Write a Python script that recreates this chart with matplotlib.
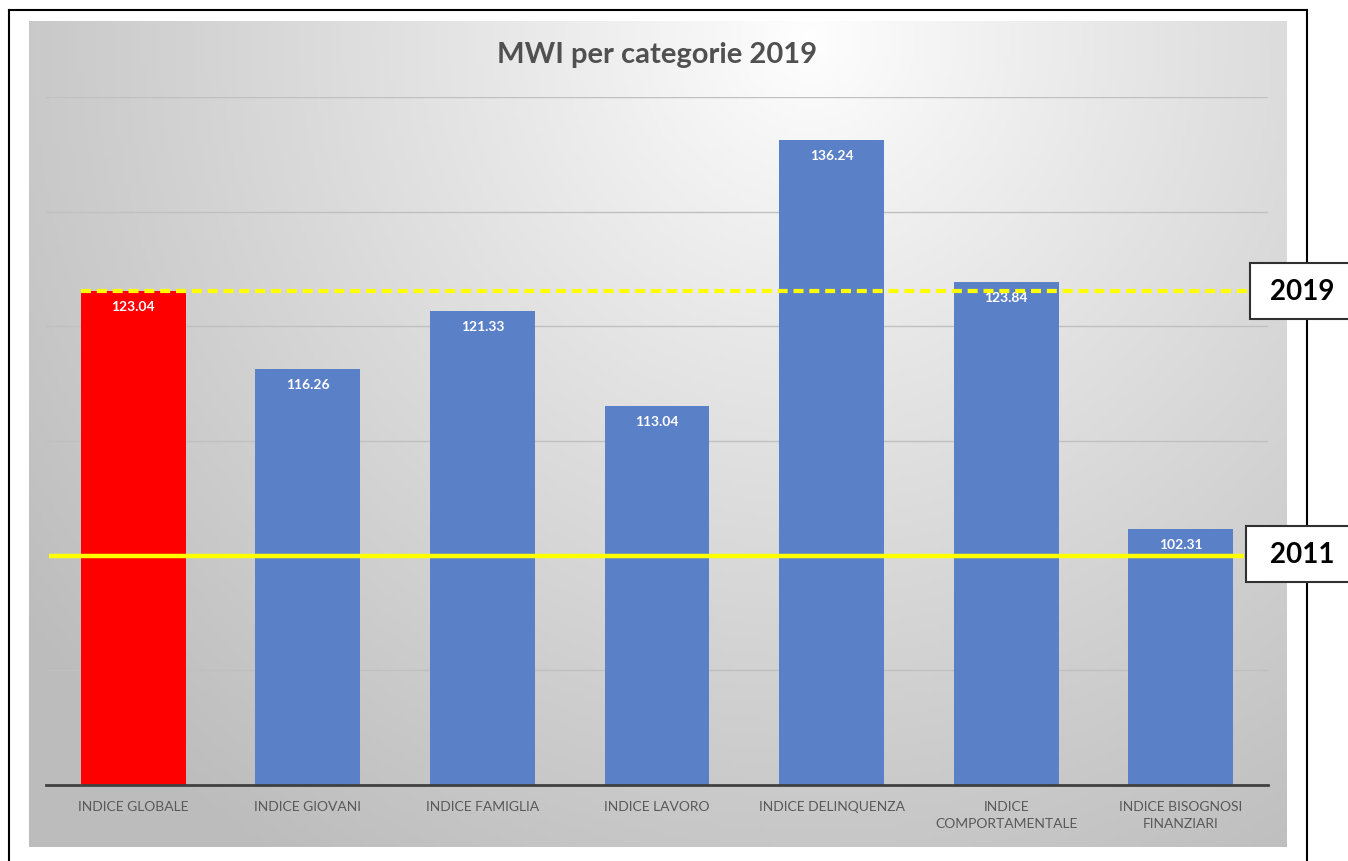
import numpy as np
import matplotlib
matplotlib.use("Agg")
import matplotlib.pyplot as plt
from matplotlib.patches import Rectangle
from matplotlib.lines import Line2D

categories = ["INDICE GLOBALE", "INDICE GIOVANI", "INDICE FAMIGLIA", "INDICE LAVORO",
              "INDICE DELINQUENZA", "INDICE\nCOMPORTAMENTALE", "INDICE BISOGNOSI\nFINANZIARI"]
values = [123.04, 116.26, 121.33, 113.04, 136.24, 123.84, 102.31]
bar_colors = ["#FF0000", "#5A80C8", "#5A80C8", "#5A80C8", "#5A80C8", "#5A80C8", "#5A80C8"]
ref_2019 = 123.04
ref_2011 = 100.0
y_min, y_max = 80, 140
grid_ticks = [90, 100, 110, 120, 130, 140]
title = "MWI per categorie 2019"

plt.rcParams['font.family'] = ['Lato', 'DejaVu Sans']

W, H = 1348, 862
fig = plt.figure(figsize=(W / 100, H / 100), dpi=100)
fig.patch.set_facecolor("white")

def fx(px):
    return px / W

def fy(py):
    return 1 - py / H

# gradient background area
bg_l, bg_t, bg_r, bg_b = 29, 22, 1287, 848
bgax = fig.add_axes([fx(bg_l), fy(bg_b), fx(bg_r - bg_l), (bg_b - bg_t) / H])
ny, nx = 200, 300
yy, xx = np.mgrid[0:ny, 0:nx]
u = xx / (nx - 1) * (bg_r - bg_l)
v = yy / (ny - 1) * (bg_b - bg_t)
cx, cy = 0.62 * (bg_r - bg_l), 0.02 * (bg_b - bg_t)
d = np.sqrt((u - cx) ** 2 + (v - cy) ** 2)
d = d / d.max()
gray = 1.0 - 0.26 * np.clip(d * 1.15, 0, 1) ** 0.9
img = np.dstack([gray, gray, gray])
bgax.imshow(img, aspect="auto", extent=[0, 1, 0, 1], origin="upper")
bgax.set_axis_off()

# main axes
L, R, T, B = 46, 1268, 98, 786
ax = fig.add_axes([fx(L), fy(B), fx(R - L), (B - T) / H])
ax.patch.set_alpha(0)
x = np.arange(len(categories))
ax.set_xlim(-0.5, len(categories) - 0.5)
ax.set_ylim(y_min, y_max)
for g in grid_ticks:
    ax.axhline(g, color="#c0c0c0", lw=1, zorder=0)
bars = ax.bar(x, [v - y_min for v in values], bottom=y_min, width=0.6,
              color=bar_colors, zorder=2)
for xi, v in zip(x, values):
    ax.text(xi, v - 0.75, f"{v:.2f}", ha="center", va="top", color="white",
            fontsize=10, fontweight="bold", zorder=4)
for s in ["top", "right", "left"]:
    ax.spines[s].set_visible(False)
ax.spines["bottom"].set_color("#404040")
ax.spines["bottom"].set_linewidth(2)
ax.spines["bottom"].set_zorder(3)
ax.set_yticks([])
ax.set_xticks(x)
ax.set_xticklabels(categories, fontsize=10, color="#595959", linespacing=1.5)
ax.tick_params(axis="x", length=0, pad=11)

# reference lines (extend beyond axes)
ax.plot([-0.5 + 0.2, 6.5 - 0.1], [ref_2019, ref_2019], color="#FFFF00", lw=3,
        dashes=(2.4, 1.4), zorder=5, clip_on=False)
ax.plot([-0.5 + 0.02, 6.5 - 0.14], [ref_2011, ref_2011], color="#FFFF00", lw=3.2,
        zorder=5, clip_on=False, solid_capstyle="butt")

# title
fig.text(fx(657), fy(55), title, ha="center", va="center", fontsize=21,
         fontweight="bold", color="#505050")

# label boxes
for (bx0, by0, by1, label) in [(1250, 264, 320, "2019"), (1246, 527, 583, "2011")]:
    fig.patches.append(Rectangle((fx(bx0), fy(by1)), fx(W + 10 - bx0), (by1 - by0) / H,
                                 transform=fig.transFigure, facecolor="white",
                                 edgecolor="#303030", lw=1.5, zorder=10))
    fig.text(fx(1302), fy((by0 + by1) / 2), label, ha="center", va="center",
             fontsize=20, fontweight="bold", color="black", zorder=11)

# outer frame
for xs, ys in [([9, 9], [11, H + 5]), ([9, 1307], [11, 11]), ([1307, 1307], [11, H + 5])]:
    fig.lines.append(Line2D([fx(a) for a in xs], [fy(b) for b in ys],
                            transform=fig.transFigure, color="black", lw=1.5, zorder=9))

fig.savefig("out.png", dpi=100)
